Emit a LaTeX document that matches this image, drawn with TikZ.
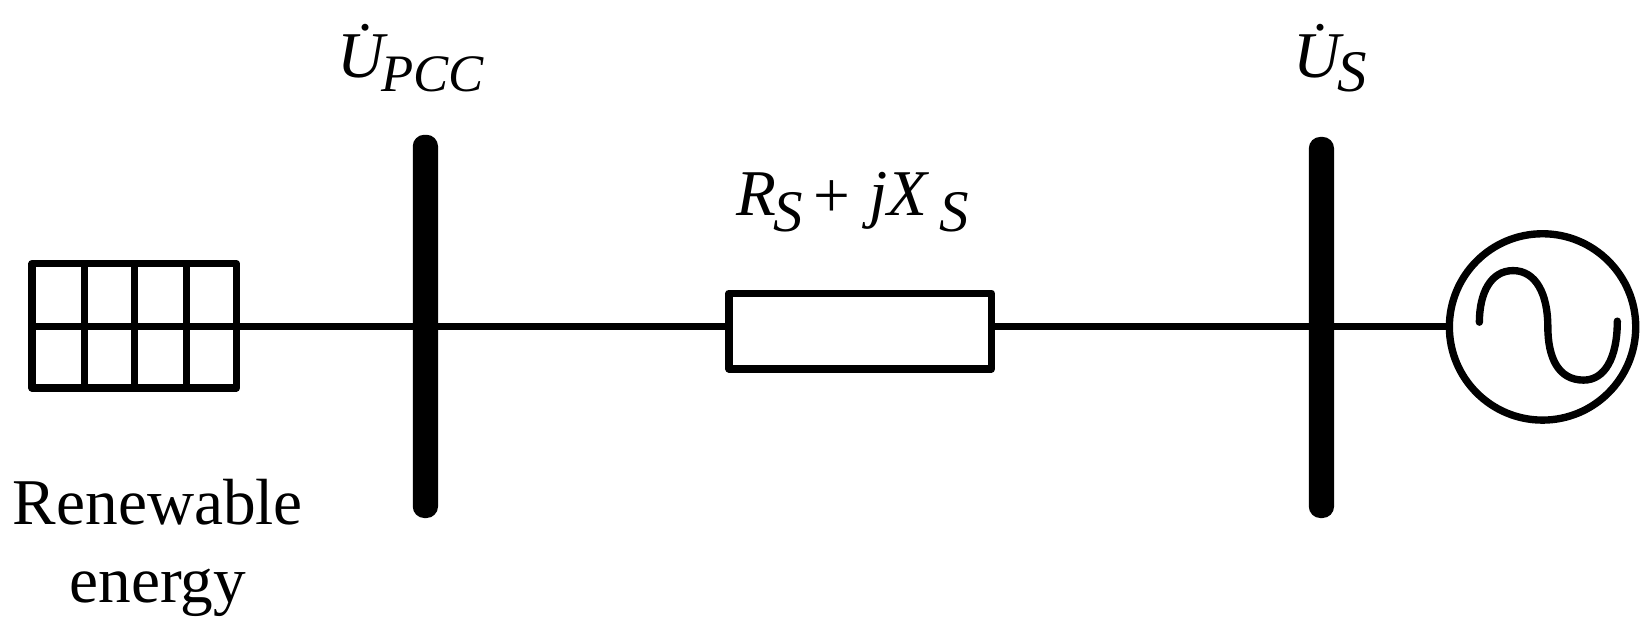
\documentclass[tikz,border=0pt]{standalone}
\usepackage{fontspec}
\setmainfont{Liberation Serif}
\usetikzlibrary{calc}
\tikzset{
  wire/.style={line width=6.5pt,draw=black},
  busbar/.style={draw=none,fill=black,rounded corners=11pt,minimum width=24pt,inner sep=0pt,outer sep=0pt},
  boxed/.style={draw=black,line width=7pt,fill=white,inner sep=0pt,outer sep=0pt,line join=round},
  lab/.style={inner sep=0pt,outer sep=0pt,anchor=base west,font=\fontsize{62}{62}\selectfont\itshape},
  sub/.style={inner sep=0pt,outer sep=0pt,anchor=base west,font=\fontsize{50}{50}\selectfont\itshape},
  subs/.style={inner sep=0pt,outer sep=0pt,anchor=base west,font=\fontsize{56}{56}\selectfont\itshape}
}
\begin{document}
\begin{tikzpicture}[x=1pt,y=-1pt]
\useasboundingbox (0,0) rectangle (1568,601);
\node[boxed,minimum width=194pt,minimum height=118pt] (pv) at (127.5,309.5) {};
\node[boxed,minimum width=249pt,minimum height=72pt] (res) at (817,314.5) {};
\node[boxed,circle,minimum size=177pt] (gen) at (1465,310.5) {};
\node[busbar,minimum height=364pt] (bus1) at (404,310) {};
\node[busbar,minimum height=362pt] (bus2) at (1255,311) {};
\coordinate (mid) at (0,310);
\draw[wire] (pv.east |- mid) -- (bus1.center |- mid);
\draw[wire] (bus1.center |- mid) -- (res.west |- mid);
\draw[wire] (res.east |- mid) -- (bus2.center |- mid);
\draw[wire] (bus2.center |- mid) -- (gen.west |- mid);
% PV grid
\draw[wire] (pv.west |- mid) -- (pv.east |- mid);
\foreach \px in {80,128,177}{
  \draw[wire] (\px,0 |- pv.north) -- (\px,0 |- pv.south);
}
% AC source
\draw[line width=7pt,line cap=round] (1405,306)
  .. controls (1405,278) and (1416,257) .. (1437,257)
  .. controls (1459,257) and (1470,280) .. (1470,310)
  .. controls (1470,340) and (1480,361) .. (1504,361)
  .. controls (1524,361) and (1536,340) .. (1536,305);
% labels
\node[lab] (u1) at (321,74) {U^^^^0307};
\node[sub] (u1s) at (362,87) {PCC};
\node[lab] (u2) at (1228,74) {U^^^^0307};
\node[subs] (u2s) at (1270,87) {S};
\node[lab] (r) at (699,205) {R};
\node[subs] (rs) at (735,220) {S};
\node[inner sep=0pt,outer sep=0pt,anchor=base west,font=\fontsize{62}{62}\selectfont] (plus) at (773,207) {+};
\node[lab] (jx) at (826,205) {jX};
\node[subs] (xs) at (892,220) {S};
\node[inner sep=0pt,outer sep=0pt,anchor=base,align=center,font=\fontsize{62}{74}\selectfont] (re) at (150,572) {Renewable\\energy};
\end{tikzpicture}
\end{document}
